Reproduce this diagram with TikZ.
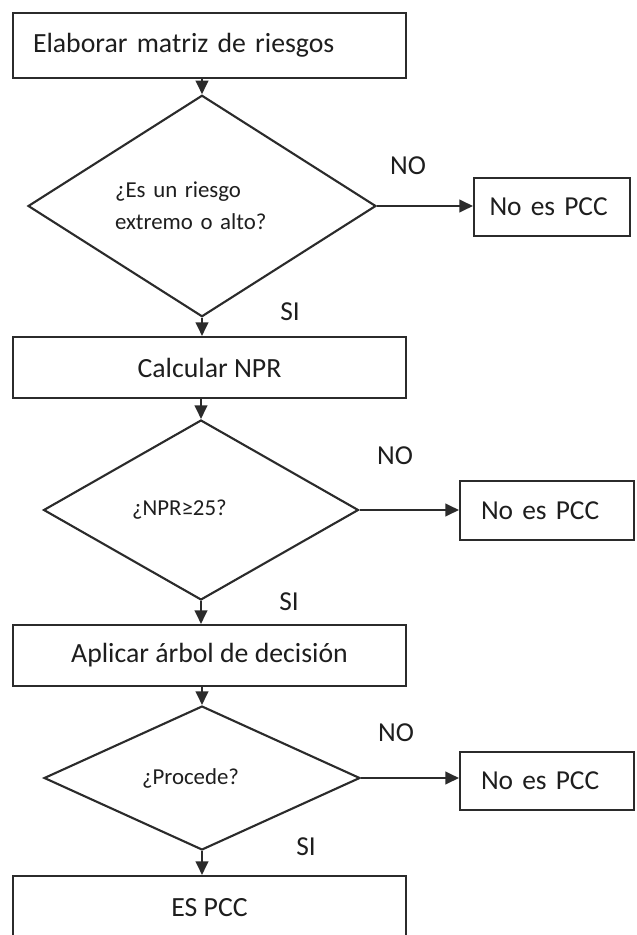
\documentclass[tikz,border=0pt]{standalone}
\usepackage{fontspec}
\setmainfont{Carlito}
\usepackage{xcolor}
\usepackage{tikz}
\usetikzlibrary{arrows.meta,positioning,shapes.geometric}
\definecolor{ink}{HTML}{1E1E1E}
\definecolor{rule}{HTML}{2B2B2B}
\tikzset{
  stepbox/.style={
    rectangle, draw=rule, line width=1.2pt, fill=white,
    minimum width=7.86cm, minimum height=#1,
    font=\fontsize{15.8}{19}\selectfont, text=ink,
    align=center, inner sep=0pt
  },
  stepbox/.default=1.22cm,
  querybox/.style={
    diamond, draw=rule, line width=1.2pt, fill=white,
    font=\fontsize{13}{18}\selectfont, text=ink,
    align=left, inner sep=0pt
  },
  nobox/.style={
    rectangle, draw=rule, line width=1.2pt, fill=white,
    minimum width=#1, minimum height=1.17cm,
    font=\fontsize{15.6}{19}\selectfont, text=ink,
    align=left, inner sep=0pt
  },
  nobox/.default=3.48cm,
  answer/.style={font=\fontsize{15.6}{19}\selectfont, text=ink, inner sep=0pt},
  flowarrow/.style={
    -{Triangle[length=0.27cm, width=0.25cm]}, line width=1.2pt, draw=rule
  },
}
\begin{document}
\begin{tikzpicture}[x=0.02cm, y=-0.02cm]
\useasboundingbox (0,0) rectangle (636,935);
\clip (0,0) rectangle (636,935);
\node[stepbox=1.3cm, text width=7.06cm, align=left] (matriz) at (209.5,45.5) {Elaborar matriz de riesgos};
\node[querybox, minimum width=6.96cm, minimum height=4.24cm, text width=3.48cm] (riesgo) at (202,206) {¿Es un riesgo\\extremo o alto?};
\node[nobox=3.12cm, text width=2.5cm] (nopcc1) at (552,207) {No es PCC};
\node[stepbox] (npr) at (209.5,367.5) {Calcular NPR};
\node[querybox, minimum width=6.3cm, minimum height=3.6cm, text width=2.76cm] (umbral) at (201,510) {\raisebox{-0.2cm}{¿NPR≥25?}};
\node[nobox, text width=2.64cm] (nopcc2) at (547,510.5) {No es PCC};
\node[stepbox] (arbol) at (209.5,655.5) {Aplicar árbol de decisión};
\node[querybox, minimum width=6.32cm, minimum height=2.88cm, text width=2.4cm] (procede) at (202,778) {¿Procede?};
\node[nobox, text width=2.64cm] (nopcc3) at (547,781) {No es PCC};
\node[stepbox=1.28cm] (espcc) at (209.5,908) {ES PCC};

\node[answer] (no1) at (408,166) {NO};
\node[answer] (si1) at (290,312) {SI};
\node[answer] (no2) at (395,456) {NO};
\node[answer] (si2) at (289,602) {SI};
\node[answer] (no3) at (396,733) {NO};
\node[answer] (si3) at (306,847) {SI};

\draw[flowarrow] (riesgo.north |- matriz.south) -- (riesgo.north);
\draw[flowarrow] (riesgo.east) -- (riesgo.east -| nopcc1.west);
\draw[flowarrow] (riesgo.south) -- (riesgo.south |- npr.north);
\draw[flowarrow] (umbral.north |- npr.south) -- (umbral.north);
\draw[flowarrow] (umbral.east) -- (umbral.east -| nopcc2.west);
\draw[flowarrow] (umbral.south) -- (umbral.south |- arbol.north);
\draw[flowarrow] (procede.north |- arbol.south) -- (procede.north);
\draw[flowarrow] (procede.east) -- (procede.east -| nopcc3.west);
\draw[flowarrow] (procede.south) -- (procede.south |- espcc.north);
\end{tikzpicture}
\end{document}
